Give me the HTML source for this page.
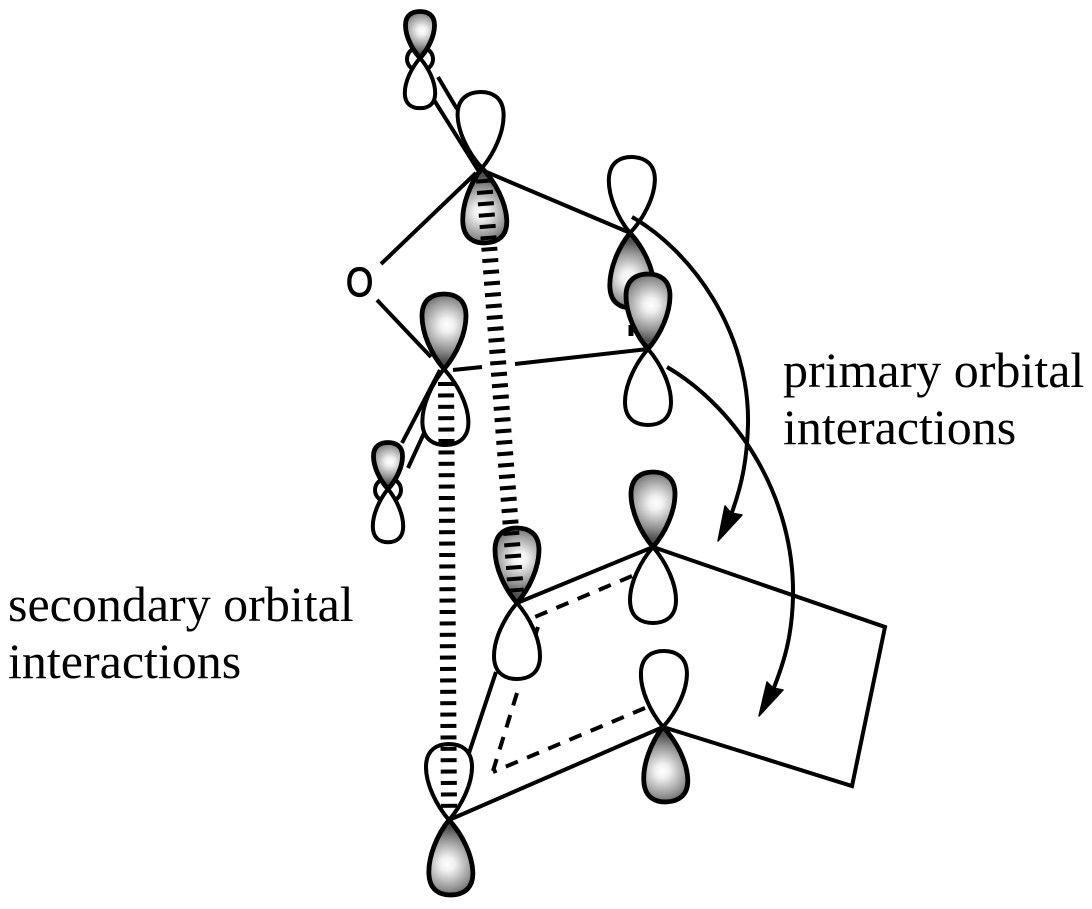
<!DOCTYPE html>
<html>
<head>
<meta charset="utf-8">
<style>
html,body{margin:0;padding:0;background:#fff;width:1092px;height:909px;overflow:hidden}
svg{display:block}
text{font-family:"Liberation Serif",serif;font-size:50px;fill:#000}
</style>
</head>
<body>
<svg width="1092" height="909" viewBox="0 0 1092 909" xmlns="http://www.w3.org/2000/svg">
<defs>
<radialGradient id="g" gradientUnits="userSpaceOnUse" cx="-3" cy="44" r="36">
<stop offset="0" stop-color="#fff"/>
<stop offset=".2" stop-color="#f0f0f0"/>
<stop offset=".7" stop-color="#929292"/>
<stop offset="1" stop-color="#505050"/>
</radialGradient>
<path id="w" d="M0,0 C-13,15 -23,36 -23,53 C-23,71 -11,76 0,76 C11,76 23,71 23,53 C23,36 13,15 0,0 Z" fill="#fff" stroke="#000" stroke-width="4" vector-effect="non-scaling-stroke"/>
<path id="s" d="M0,0 C-13,15 -22,36 -22,53 C-22,70 -11,75 0,75 C11,75 22,70 22,53 C22,36 13,15 0,0 Z" fill="url(#g)" stroke="#000" stroke-width="4.8" vector-effect="non-scaling-stroke"/>
</defs>

<g stroke="#000" stroke-width="4" fill="none">
<ellipse cx="420" cy="59" rx="13" ry="12"/>
<ellipse cx="388" cy="490" rx="13" ry="12"/>
<line x1="438" y1="77" x2="457" y2="109"/>
<line x1="434" y1="100" x2="478" y2="170"/>
<line x1="381" y1="264" x2="476" y2="173"/>
<line x1="484" y1="171" x2="628" y2="232"/>
<line x1="377" y1="300" x2="431" y2="357"/>
<line x1="453" y1="370" x2="482" y2="367"/>
<line x1="515" y1="364" x2="648" y2="349"/>
<line x1="440" y1="370" x2="402" y2="443"/>
<line x1="425" y1="431" x2="408" y2="468"/>
<line x1="631" y1="325" x2="631" y2="336" stroke-width="5"/>
<polyline points="517,603 653,547 885,627 852,786 663,727 449,820"/>
<line x1="496" y1="672" x2="469" y2="753"/>
<g stroke-dasharray="13 10">
<line x1="632" y1="576" x2="530" y2="619"/>
<line x1="517" y1="693" x2="493" y2="771"/>
<line x1="645" y1="708" x2="493" y2="772"/>
</g>
<line x1="538" y1="627" x2="535" y2="636"/>
</g>

<use href="#s" transform="translate(420,58) rotate(180) scale(.66,.62)"/>
<use href="#w" transform="translate(420,58) scale(.66)"/>
<use href="#w" transform="translate(482,168) rotate(178.5)"/>
<use href="#s" transform="translate(482,168) rotate(-3)"/>
<use href="#w" transform="translate(630,233) rotate(182)"/>
<use href="#s" transform="translate(630,233) rotate(-2)"/>
<use href="#s" transform="translate(648,349) rotate(180)"/>
<use href="#w" transform="translate(648,349)"/>
<use href="#s" transform="translate(444,369) rotate(180)"/>
<use href="#w" transform="translate(444,369) rotate(-1.5)"/>
<use href="#s" transform="translate(388,489) rotate(180) scale(.66,.62)"/>
<use href="#w" transform="translate(388,489) scale(.66,.7)"/>
<use href="#s" transform="translate(517,603) rotate(180)"/>
<use href="#w" transform="translate(517,603)"/>
<use href="#s" transform="translate(653,547) rotate(180)"/>
<use href="#w" transform="translate(653,547)"/>
<use href="#w" transform="translate(663,727) rotate(181)"/>
<use href="#s" transform="translate(663,727) rotate(-3)"/>
<use href="#w" transform="translate(449,820) rotate(180)"/>
<use href="#s" transform="translate(449,820) rotate(-2)"/>

<g stroke="#000" stroke-width="16" fill="none" stroke-dasharray="4 7.4">
<line x1="484" y1="179" x2="516" y2="594"/>
<line x1="446" y1="382" x2="449" y2="810"/>
</g>

<g stroke="#000" stroke-width="4" fill="none">
<path d="M632,217 C690,250 750,330 748,425 C747,460 742,485 731,515"/>
<path d="M667,367 C740,410 795,500 793,597 C792,635 785,660 773,690"/>
</g>
<polygon points="718,541 725,506 731,513 742,515" fill="#000" stroke="#000" stroke-width="1.5" stroke-linejoin="round"/>
<polygon points="759,716 767,682 773,688 783,690" fill="#000" stroke="#000" stroke-width="1.5" stroke-linejoin="round"/>

<text transform="translate(346,296) scale(.97,1.14)" stroke="#000" stroke-width="1" style="font-family:'Liberation Sans',sans-serif;font-size:36px">O</text>
<text x="783" y="387">primary orbital</text>
<text x="783" y="444">interactions</text>
<text x="8" y="621">secondary orbital</text>
<text x="8" y="678">interactions</text>
</svg>
</body>
</html>
